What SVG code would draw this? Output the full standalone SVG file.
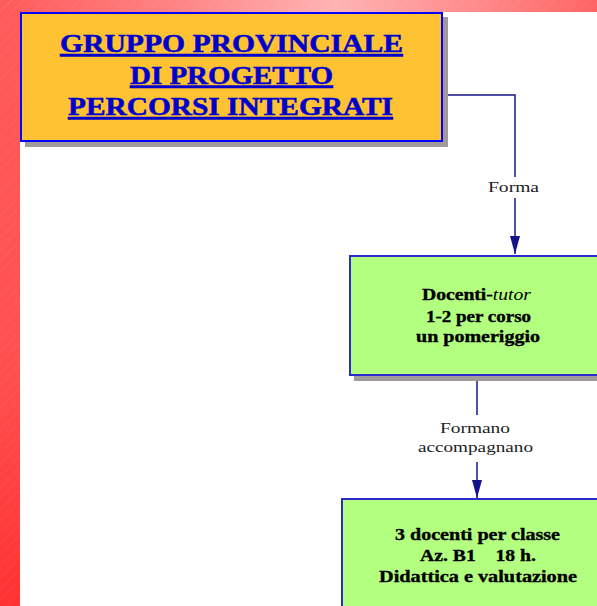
<svg xmlns="http://www.w3.org/2000/svg" width="597" height="606" viewBox="0 0 597 606">
  <defs>
    <linearGradient id="topBand" x1="0" y1="0" x2="1" y2="0">
      <stop offset="0" stop-color="#ff5a5a"/>
      <stop offset="0.3" stop-color="#ff8585"/>
      <stop offset="0.56" stop-color="#ffb3b3"/>
      <stop offset="0.8" stop-color="#ff8a8a"/>
      <stop offset="1" stop-color="#ff6464"/>
    </linearGradient>
    <linearGradient id="leftBand" x1="0" y1="0" x2="0" y2="1">
      <stop offset="0" stop-color="#ff5c5c"/>
      <stop offset="0.6" stop-color="#ff5050"/>
      <stop offset="1" stop-color="#ff3232"/>
    </linearGradient>
    <pattern id="stripes" width="8" height="8" patternUnits="userSpaceOnUse" patternTransform="rotate(45)">
      <line x1="0" y1="0" x2="0" y2="8" stroke="#ffffff" stroke-opacity="0.22" stroke-width="1" stroke-dasharray="1 1"/>
    </pattern>
    <marker id="arrow" markerUnits="userSpaceOnUse" markerWidth="18" markerHeight="10" viewBox="0 0 18 10" refX="18" refY="5" orient="auto">
      <path d="M0,0 L18,5 L0,10 z" fill="#14148a"/>
    </marker>
    <style>
      .title { font-family: "Liberation Serif", "Times New Roman", serif; font-weight: bold; font-size: 25px; fill: #0000cc; stroke: #0000cc; stroke-width: 0.5px; text-decoration: underline; text-anchor: middle; }
      .body { font-family: "Liberation Serif", "Times New Roman", serif; font-weight: bold; font-size: 16.5px; fill: #000000; stroke: #000000; stroke-width: 0.35px; text-anchor: middle; white-space: pre; }
      .lbl { font-family: "Liberation Serif", "Times New Roman", serif; font-size: 15.5px; fill: #222222; text-anchor: middle; }
      .shadow { fill: #a09a9a; }
      .orange { fill: #ffc233; stroke: #0000ff; stroke-width: 2; }
      .green { fill: #b3ff80; stroke: #2a2ad0; stroke-width: 2; }
      .conn { fill: none; stroke: #14148a; stroke-width: 1.5; }
    </style>
  </defs>

  <!-- background frame -->
  <rect x="0" y="0" width="597" height="606" fill="#ffffff"/>
  <rect x="0" y="0" width="597" height="12" fill="url(#topBand)"/>
  <rect x="0" y="0" width="20" height="606" fill="url(#leftBand)"/>
  <rect x="0" y="0" width="597" height="12" fill="url(#stripes)"/>
  <rect x="0" y="0" width="20" height="606" fill="url(#stripes)"/>

  <g id="connectors">
    <path class="conn" d="M443,95 H515 V177"/>
    <path class="conn" d="M515,198 V254" marker-end="url(#arrow)"/>
    <text class="lbl" x="513.5" y="192" textLength="51" lengthAdjust="spacingAndGlyphs">Forma</text>
    <path class="conn" d="M477,378 V415"/>
    <path class="conn" d="M477,462 V498" marker-end="url(#arrow)"/>
    <text class="lbl" x="475" y="433" textLength="70" lengthAdjust="spacingAndGlyphs">Formano</text>
    <text class="lbl" x="475.5" y="452" textLength="115" lengthAdjust="spacingAndGlyphs">accompagnano</text>
  </g>

  <g id="gruppo">
    <rect class="shadow" x="25" y="17" width="423" height="130"/>
    <rect class="orange" x="21" y="13" width="421" height="128"/>
    <text class="title" x="231.5" y="52" textLength="343" lengthAdjust="spacingAndGlyphs">GRUPPO PROVINCIALE</text>
    <text class="title" x="231.5" y="83.5" textLength="203" lengthAdjust="spacingAndGlyphs">DI PROGETTO</text>
    <text class="title" x="230.5" y="115" textLength="325" lengthAdjust="spacingAndGlyphs">PERCORSI INTEGRATI</text>
  </g>

  <g id="docenti-tutor">
    <rect class="shadow" x="354" y="260" width="260" height="121"/>
    <rect class="green" x="350" y="256" width="260" height="119"/>
    <text class="body" x="476.5" y="300" textLength="109" lengthAdjust="spacingAndGlyphs">Docenti-<tspan font-style="italic" font-weight="normal" stroke-width="0">tutor</tspan></text>
    <text class="body" x="478.5" y="321.5" textLength="105" lengthAdjust="spacingAndGlyphs">1-2 per corso</text>
    <text class="body" x="478" y="341.5" textLength="124" lengthAdjust="spacingAndGlyphs">un pomeriggio</text>
  </g>

  <g id="docenti-classe">
    <rect class="shadow" x="346" y="503" width="270" height="120"/>
    <rect class="green" x="342" y="499" width="270" height="120"/>
    <text class="body" x="477.5" y="540" textLength="165" lengthAdjust="spacingAndGlyphs">3 docenti per classe</text>
    <text class="body" x="478" y="561" textLength="116" lengthAdjust="spacingAndGlyphs">Az. B1    18 h.</text>
    <text class="body" x="478" y="582" textLength="198" lengthAdjust="spacingAndGlyphs">Didattica e valutazione</text>
  </g>
</svg>
